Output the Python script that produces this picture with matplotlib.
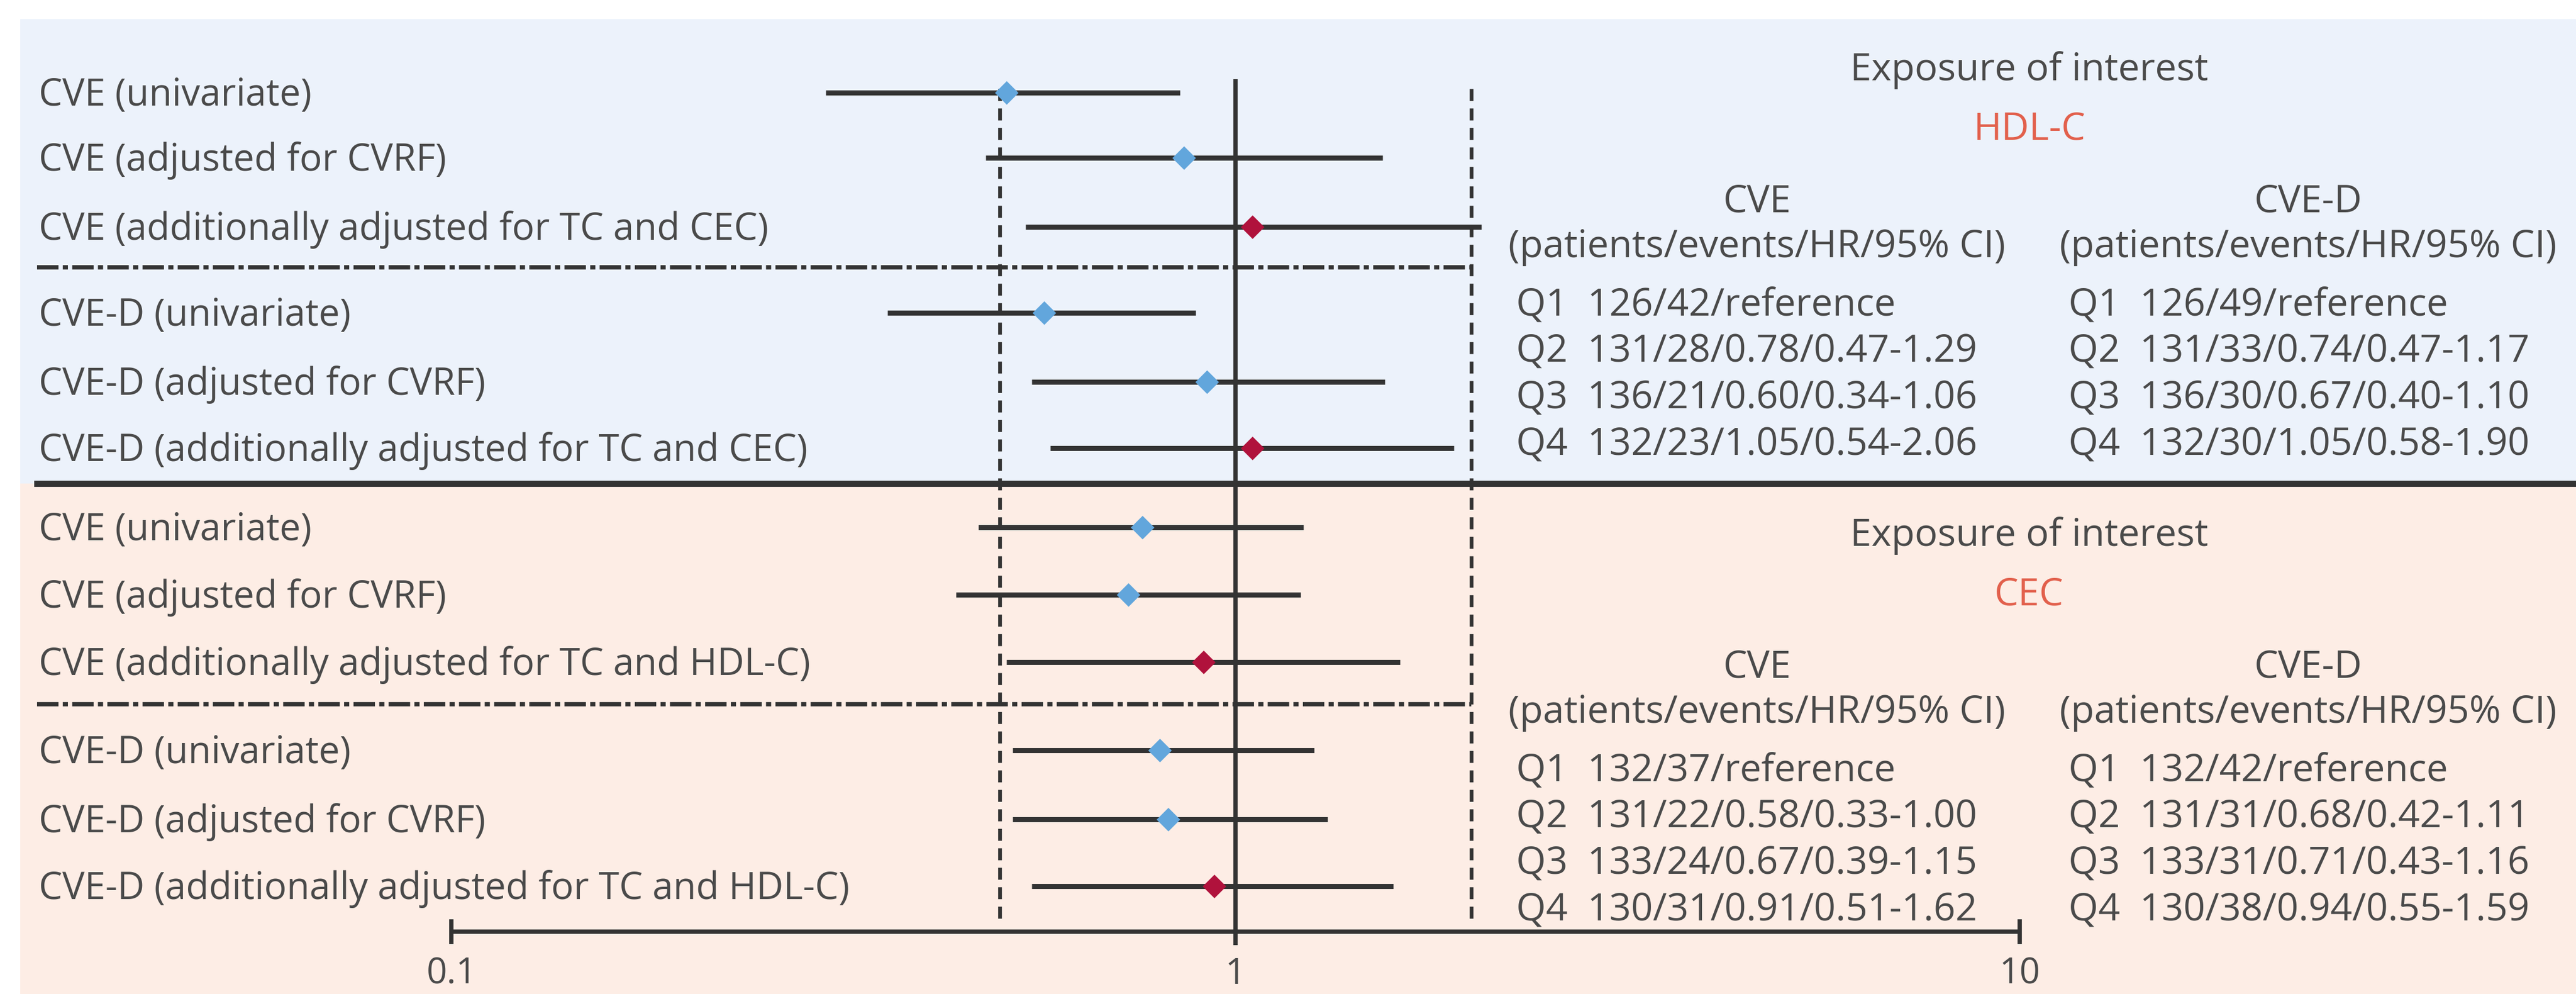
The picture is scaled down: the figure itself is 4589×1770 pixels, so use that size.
import matplotlib
matplotlib.use("Agg")
import matplotlib.pyplot as plt
import matplotlib.transforms as mtransforms
import numpy as np

plt.rcParams['font.family'] = ['Open Sans', 'DejaVu Sans']

# ---- data ----
hdl_labels = ["CVE (univariate)", "CVE (adjusted for CVRF)",
              "CVE (additionally adjusted for TC and CEC)",
              "CVE-D (univariate)", "CVE-D (adjusted for CVRF)",
              "CVE-D (additionally adjusted for TC and CEC)"]
hdl_hr = [0.51, 0.86, 1.05, 0.57, 0.92, 1.05]
hdl_lo = [0.30, 0.48, 0.54, 0.36, 0.55, 0.58]
hdl_hi = [0.85, 1.54, 2.06, 0.89, 1.55, 1.90]

cec_labels = ["CVE (univariate)", "CVE (adjusted for CVRF)",
              "CVE (additionally adjusted for TC and HDL-C)",
              "CVE-D (univariate)", "CVE-D (adjusted for CVRF)",
              "CVE-D (additionally adjusted for TC and HDL-C)"]
cec_hr = [0.76, 0.73, 0.91, 0.80, 0.82, 0.94]
cec_lo = [0.47, 0.44, 0.51, 0.52, 0.52, 0.55]
cec_hi = [1.22, 1.21, 1.62, 1.26, 1.31, 1.59]

# model type: 0 = univariate / CVRF, 1 = additionally adjusted
model_type = [0, 0, 1, 0, 0, 1]

quartiles = ["Q1", "Q2", "Q3", "Q4"]
hdl_cve_pat = [126, 131, 136, 132]
hdl_cve_ev = [42, 28, 21, 23]
hdl_cve_hr = [None, 0.78, 0.60, 1.05]
hdl_cve_lo = [None, 0.47, 0.34, 0.54]
hdl_cve_hi = [None, 1.29, 1.06, 2.06]
hdl_cved_pat = [126, 131, 136, 132]
hdl_cved_ev = [49, 33, 30, 30]
hdl_cved_hr = [None, 0.74, 0.67, 1.05]
hdl_cved_lo = [None, 0.47, 0.40, 0.58]
hdl_cved_hi = [None, 1.17, 1.10, 1.90]

cec_cve_pat = [132, 131, 133, 130]
cec_cve_ev = [37, 22, 24, 31]
cec_cve_hr = [None, 0.58, 0.67, 0.91]
cec_cve_lo = [None, 0.33, 0.39, 0.51]
cec_cve_hi = [None, 1.00, 1.15, 1.62]
cec_cved_pat = [132, 131, 133, 130]
cec_cved_ev = [42, 31, 31, 38]
cec_cved_hr = [None, 0.68, 0.71, 0.94]
cec_cved_lo = [None, 0.42, 0.43, 0.55]
cec_cved_hi = [None, 1.11, 1.16, 1.59]

axis_ticks = [0.1, 1, 10]
axis_ticklabels = ["0.1", "1", "10"]
ref_lines = [0.5, 2]

# ---- layout (pixels) ----
W, H = 4589, 1770
top_rows = [165, 281, 404, 557, 680, 798]
bot_rows = [939, 1059, 1179, 1336, 1459, 1578]
FS_LAB = 48
FS_TAB = 49

TEXT = "#4a4a4a"
LINE = "#333333"
BLUE = "#62a6dc"
RED = "#b0123c"
ACCENT = "#e2604c"
BG_TOP = "#ecf2fb"
BG_BOT = "#fdede5"

fig = plt.figure(figsize=(W / 100, H / 100), dpi=100)
ax = fig.add_axes([0, 0, 1, 1])
ax.set_xscale('log')
dec = 1396.0
x0 = 10 ** (-1 - 804 / dec)
x1 = 10 ** (1 + (W - 3598) / dec)
ax.set_xlim(x0, x1)
ax.set_ylim(H, 0)
ax.axis('off')
fig.patch.set_facecolor("white")

blend = mtransforms.blended_transform_factory(ax.transAxes, ax.transData)


def px_to_x(px):
    return 10 ** (np.log10(x0) + px / W * (np.log10(x1) - np.log10(x0)))


# panel backgrounds
ax.axhspan(34, 861, xmin=36 / W, xmax=1, fc=BG_TOP, lw=0, zorder=0)
ax.axhspan(861, H, xmin=36 / W, xmax=1, fc=BG_BOT, lw=0, zorder=0)

# reference lines
ax.vlines(1, 141, 1683, color=LINE, lw=5.5, zorder=2)
ax.vlines(ref_lines, 158, 1645, color=LINE, lw=4.8,
          linestyles=[(0, (3.2, 2.0))], zorder=2)

# separators
for ysep in [476, 1254]:
    ax.plot([px_to_x(66), 2], [ysep, ysep], color=LINE, lw=5.5,
            dashes=(5, 1.0, 1.2, 1.0), zorder=2, solid_capstyle='butt')
ax.plot([px_to_x(66), x1], [861, 861], color=LINE, lw=8, zorder=3)

# bottom axis
ax.hlines(1659, axis_ticks[0], axis_ticks[-1], color=LINE, lw=5.5)
ax.vlines([axis_ticks[0], axis_ticks[-1]], 1637, 1681, color=LINE, lw=5.5)
for t, lab in zip(axis_ticks, axis_ticklabels):
    ax.text(t, 1767, lab, ha='center', va='bottom', fontsize=46, color=TEXT)


def forest(rows, labels, hr, lo, hi):
    for y, lab, h, l, u, m in zip(rows, labels, hr, lo, hi, model_type):
        ax.hlines(y, l, u, color=LINE, lw=6.5, zorder=4)
        ax.plot(h, y, marker='D', ms=21, color=RED if m else BLUE,
                mec='none', zorder=5)
        ax.text(69 / W, y + 5, lab, transform=blend, ha='left', va='center',
                fontsize=FS_LAB, color=TEXT)


forest(top_rows, hdl_labels, hdl_hr, hdl_lo, hdl_hi)
forest(bot_rows, cec_labels, cec_hr, cec_lo, cec_hi)


def qlines(pat, ev, hr, lo, hi):
    out = []
    for q, p, e, h, l, u in zip(quartiles, pat, ev, hr, lo, hi):
        if h is None:
            out.append(f"{q}  {p}/{e}/reference")
        else:
            out.append(f"{q}  {p}/{e}/{h:.2f}/{l:.2f}-{u:.2f}")
    return out


def table(y0, name, cve, cved):
    ax.text(3615 / W, y0 + 4, "Exposure of interest", transform=blend,
            ha='center', va='center', fontsize=FS_TAB, color=TEXT)
    ax.text(3615 / W, y0 + 110, name, transform=blend,
            ha='center', va='center', fontsize=FS_TAB, color=ACCENT)
    for xc, xl, head, rows in [(3130, 2701, "CVE", cve), (4112, 3685, "CVE-D", cved)]:
        ax.text(xc / W, y0 + 239, head, transform=blend,
                ha='center', va='center', fontsize=FS_TAB, color=TEXT)
        ax.text(xc / W, y0 + 319, "(patients/events/HR/95% CI)", transform=blend,
                ha='center', va='center', fontsize=FS_TAB, color=TEXT)
        for i, s in enumerate(rows):
            ax.text(xl / W, y0 + 423 + 83 * i, s, transform=blend,
                    ha='left', va='center', fontsize=FS_TAB, color=TEXT)


table(121, "HDL-C",
      qlines(hdl_cve_pat, hdl_cve_ev, hdl_cve_hr, hdl_cve_lo, hdl_cve_hi),
      qlines(hdl_cved_pat, hdl_cved_ev, hdl_cved_hr, hdl_cved_lo, hdl_cved_hi))
table(950, "CEC",
      qlines(cec_cve_pat, cec_cve_ev, cec_cve_hr, cec_cve_lo, cec_cve_hi),
      qlines(cec_cved_pat, cec_cved_ev, cec_cved_hr, cec_cved_lo, cec_cved_hi))

fig.savefig("out.png", dpi=100)
